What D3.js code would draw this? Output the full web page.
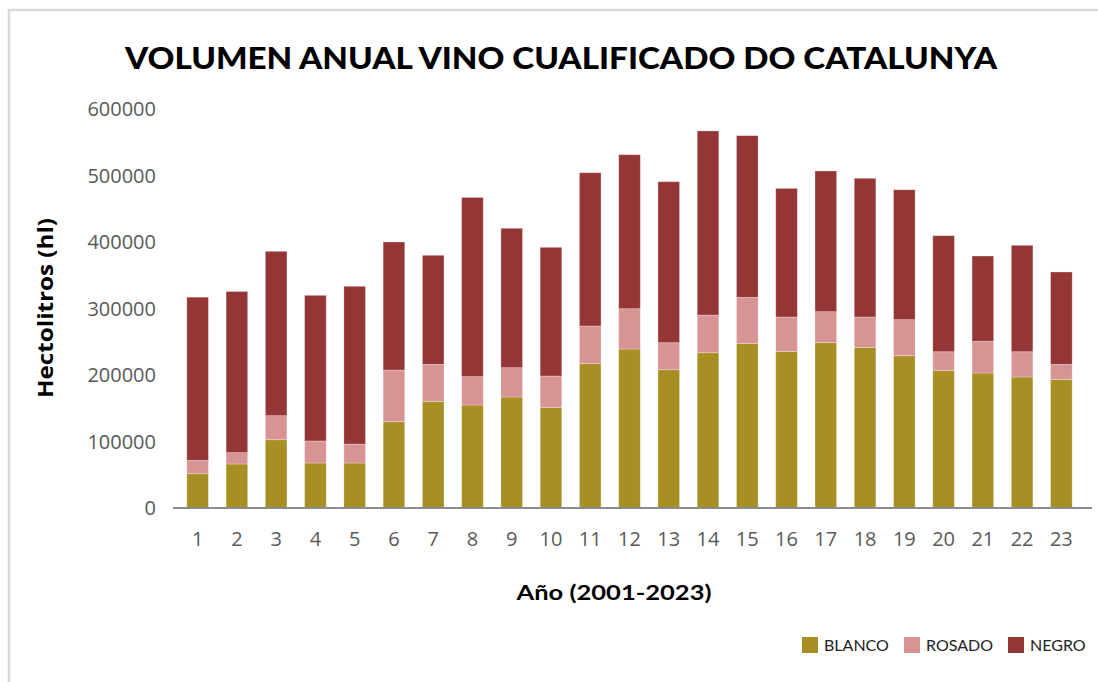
<!DOCTYPE html>
<html>
<head>
<meta charset="utf-8">
<script src="https://cdn.jsdelivr.net/npm/d3@7"></script>
<style>
  body { margin: 0; background: #fff; }
  svg { display: block; }
</style>
</head>
<body>
<div id="container"></div>
<script>
// Año 1..23 (2001-2023), hectolitros
const years = d3.range(1, 24);
const blanco = [51600, 66200, 102700, 67700, 67700, 129800, 160400, 154900, 166900, 151400, 217000, 239100,
  208000, 233500, 247600, 235600, 248600, 241600, 229000, 207000, 203000, 197000, 193500];
const rosado = [20100, 17000, 36100, 33100, 28500, 77700, 55600, 42600, 44100, 47100, 56700, 60600,
  40600, 56700, 69200, 51600, 46600, 45600, 54200, 28000, 47700, 38000, 22500];
const negro = [245300, 242400, 247200, 219000, 237200, 192500, 164000, 269500, 209600, 193500, 230500, 231600,
  242100, 276800, 243100, 193400, 211600, 208600, 195400, 174500, 128200, 160000, 138900];
const yTicks = [0, 100000, 200000, 300000, 400000, 500000, 600000];

const seriesKeys = ["BLANCO", "ROSADO", "NEGRO"];
const colors = { BLANCO: "#a88f24", ROSADO: "#d89494", NEGRO: "#953636" };

const rows = years.map((y, i) => ({ year: y, BLANCO: blanco[i], ROSADO: rosado[i], NEGRO: negro[i] }));

const width = 1098, height = 682;

const svg = d3.select("#container")
  .append("svg")
  .attr("width", width)
  .attr("height", height);

svg.append("rect").attr("width", width).attr("height", height).attr("fill", "#fff");

// frame
svg.append("path")
  .attr("d", `M9,${height} V10 H${width}`)
  .attr("fill", "none")
  .attr("stroke", "#dadada")
  .attr("stroke-width", 2.5);

const x = d3.scaleBand()
  .domain(years)
  .range([178, 1081])
  .paddingInner(0.45)
  .paddingOuter(0.225);

const y = d3.scaleLinear()
  .domain([0, 600000])
  .range([508, 109]);

const stacked = d3.stack().keys(seriesKeys)(rows);

svg.append("g")
  .selectAll("g")
  .data(stacked)
  .join("g")
  .attr("fill", d => colors[d.key])
  .selectAll("rect")
  .data(d => d)
  .join("rect")
  .attr("x", d => x(d.data.year))
  .attr("y", d => y(d[1]))
  .attr("width", x.bandwidth())
  .attr("height", d => y(d[0]) - y(d[1]))
  .attr("stroke", "#fff")
  .attr("stroke-opacity", 0.35)
  .attr("stroke-width", 0.8);

// x axis line
svg.append("line")
  .attr("x1", 173)
  .attr("x2", 1092)
  .attr("y1", y(0))
  .attr("y2", y(0))
  .attr("stroke", "#8c8c8c")
  .attr("stroke-width", 2);

// y tick labels
svg.append("g")
  .selectAll("text")
  .data(yTicks)
  .join("text")
  .attr("x", 156)
  .attr("y", d => y(d))
  .attr("dy", "0.35em")
  .attr("text-anchor", "end")
  .style("font-family", "'Open Sans', sans-serif")
  .style("font-size", "20px")
  .style("fill", "#595959")
  .text(d => d);

// x tick labels
svg.append("g")
  .selectAll("text")
  .data(years)
  .join("text")
  .attr("x", d => x(d) + x.bandwidth() / 2)
  .attr("y", 539)
  .attr("dy", "0.35em")
  .attr("text-anchor", "middle")
  .style("font-family", "'Open Sans', sans-serif")
  .style("font-size", "20px")
  .style("fill", "#595959")
  .text(d => d);

// title
svg.append("text")
  .attr("x", 561)
  .attr("y", 69)
  .attr("text-anchor", "middle")
  .attr("textLength", 872)
  .attr("lengthAdjust", "spacingAndGlyphs")
  .style("font-family", "Lato, sans-serif")
  .style("font-weight", 900)
  .style("font-size", "31px")
  .style("fill", "#000")
  .text("VOLUMEN ANUAL VINO CUALIFICADO DO CATALUNYA");

// axis titles
svg.append("text")
  .attr("transform", "translate(53,308) rotate(-90)")
  .attr("text-anchor", "middle")
  .attr("textLength", 180)
  .attr("lengthAdjust", "spacingAndGlyphs")
  .style("font-family", "'Open Sans', sans-serif")
  .style("font-weight", 700)
  .style("font-size", "21px")
  .style("fill", "#000")
  .text("Hectolitros (hl)");

svg.append("text")
  .attr("x", 614)
  .attr("y", 600)
  .attr("text-anchor", "middle")
  .attr("textLength", 195)
  .attr("lengthAdjust", "spacingAndGlyphs")
  .style("font-family", "Lato, sans-serif")
  .style("font-weight", 700)
  .style("font-size", "21px")
  .style("fill", "#000")
  .text("Año (2001-2023)");

// legend
const legendX = [802, 904, 1008];
const legend = svg.append("g");
seriesKeys.forEach((k, i) => {
  legend.append("rect")
    .attr("x", legendX[i])
    .attr("y", 637)
    .attr("width", 16)
    .attr("height", 16)
    .attr("fill", colors[k]);
  legend.append("text")
    .attr("x", legendX[i] + 22)
    .attr("y", 645)
    .attr("dy", "0.36em")
    .style("font-family", "Lato, sans-serif")
    .style("font-size", "16px")
    .style("fill", "#222")
    .text(k);
});
</script>
</body>
</html>
